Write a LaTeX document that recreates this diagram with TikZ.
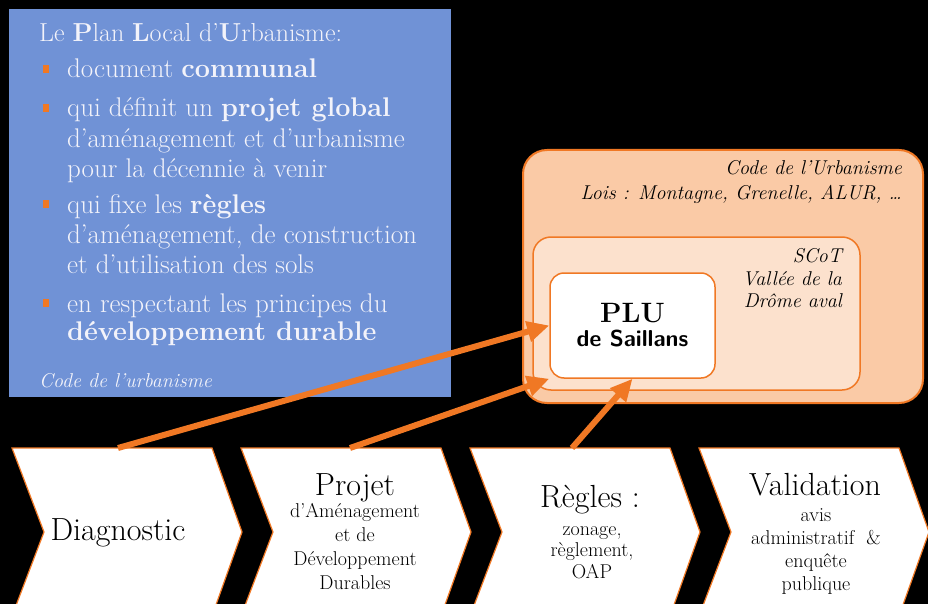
\documentclass[tikz,border=0pt]{standalone}
\usepackage{fontspec}
\usepackage{tikz}
\usetikzlibrary{positioning,arrows.meta}

\definecolor{planblue}{RGB}{112,146,214}
\definecolor{plantext}{RGB}{243,243,250}
\definecolor{pluorange}{RGB}{240,120,36}
\definecolor{codefill}{RGB}{250,202,166}
\definecolor{scotfill}{RGB}{252,225,205}

\tikzset{
	bluetxt/.style={anchor=base west, text=plantext, inner sep=0pt, font=\fontsize{27}{30}\selectfont},
	puce/.style={fill=pluorange, minimum width=6pt, minimum height=8pt, inner sep=0pt},
	codetxt/.style={anchor=base east, inner sep=0pt, font=\fontsize{20}{22}\selectfont\itshape},
	chevron/.style={fill=white, draw=pluorange, line width=1.2pt},
	bigtxt/.style={anchor=base, inner sep=0pt, font=\fontsize{32}{36}\selectfont},
	smalltxt/.style={anchor=base, align=center, inner sep=0pt, font=\fontsize{20}{23}\selectfont},
	fleche/.style={draw=pluorange, line width=6pt, -{Triangle[length=22pt,width=20pt]}}
}

\begin{document}
\begin{tikzpicture}[x=1pt, y=-1pt]
			\useasboundingbox (0,0) rectangle (928,604);
			\clip (0,0) rectangle (928,604);
			\fill[black] (0,0) rectangle (928,604);
			
			% le PLU en quelques mots
			\fill[planblue] (9,9) rectangle (451,397);
			\node[bluetxt, font=\fontsize{26}{30}\selectfont] (titre) at (39,42) {Le \textbf{P}lan \textbf{L}ocal d'\textbf{U}rbanisme:};
			\node[puce] (p1) at (46,69) {};
			\node[bluetxt] (l1) at (67,78) {document \textbf{communal}};
			\node[puce] (p2) at (46,108) {};
			\node[bluetxt] (l2) at (67,117) {qui définit un \textbf{projet global}};
			\node[bluetxt] (l3) at (67,148) {d'aménagement et d'urbanisme};
			\node[bluetxt] (l4) at (67,178) {pour la décennie à venir};
			\node[puce] (p3) at (46,204) {};
			\node[bluetxt] (l5) at (67,213) {qui fixe les \textbf{règles}};
			\node[bluetxt] (l6) at (67,243) {d'aménagement, de construction};
			\node[bluetxt] (l7) at (67,273) {et d'utilisation des sols};
			\node[puce] (p4) at (46,303) {};
			\node[bluetxt] (l8) at (67,312) {en respectant les principes du};
			\node[bluetxt] (l9) at (67,340) {\textbf{développement durable}};
			\node[bluetxt, font=\fontsize{20}{22}\selectfont\itshape] (source) at (39,387) {Code de l'urbanisme};
			
			% documents emboites
			\draw[fill=codefill, draw=pluorange, line width=2pt, rounded corners=24pt] (523,150) rectangle (923,403);
			\node[codetxt] (code) at (902,175) {Code de l'Urbanisme};
			\node[codetxt] (lois) at (902,200) {Lois : Montagne, Grenelle, ALUR, \ldots};
			
			\draw[fill=scotfill, draw=pluorange, line width=1.5pt, rounded corners=18pt] (533,237) rectangle (860,390);
			\node[codetxt] (scot) at (842,262) {SCoT};
			\node[codetxt] (vallee) at (842,285) {Vallée de la};
			\node[codetxt] (drome) at (842,307) {Drôme aval};
			
			\node[fill=white, draw=pluorange, line width=1.5pt, rounded corners=14pt, minimum width=165pt, minimum height=105pt, align=center] (plu) at (632.5,325.5)
				{\fontsize{28}{29}\selectfont\bfseries PLU\\[6pt]{\fontsize{23}{24}\selectfont\sffamily\bfseries de Saillans}};
			
			% les etapes
			\draw[chevron] (12,448) -- ++(200,0) -- ++(30,84) -- ++(-30,84) -- ++(-200,0) -- ++(32,-84) -- cycle;
			\draw[chevron] (241,448) -- ++(200,0) -- ++(30,84) -- ++(-30,84) -- ++(-200,0) -- ++(32,-84) -- cycle;
			\draw[chevron] (470,448) -- ++(200,0) -- ++(30,84) -- ++(-30,84) -- ++(-200,0) -- ++(32,-84) -- cycle;
			\draw[chevron] (699,448) -- ++(200,0) -- ++(30,84) -- ++(-30,84) -- ++(-200,0) -- ++(32,-84) -- cycle;
			
			\node[bigtxt] (diag) at (118,540) {Diagnostic};
			\node[bigtxt] (projet) at (355,495) {Projet};
			\node[smalltxt, font=\fontsize{20}{24}\selectfont] (padd) at (355,589) {d'Aménagement\\et de\\Développement\\Durables};
			\node[bigtxt] (regles) at (590,507) {Règles :};
			\node[smalltxt, font=\fontsize{20}{21.5}\selectfont] (zonage) at (592,578) {zonage,\\règlement,\\OAP};
			\node[bigtxt] (valid) at (815,495) {Validation};
			\node[smalltxt, font=\fontsize{20}{22.7}\selectfont] (avis) at (816,590) {avis\\administratif~ \&\\enquête\\publique};
			
			% fleches vers le PLU
			\coordinate (dstart) at (118,448);
			\coordinate (pstart) at (350,448);
			\coordinate (rstart) at (572,448);
			\draw[fleche] (dstart) -- (plu.west);
			\draw[fleche] (pstart) -- (plu.south west);
			\draw[fleche] (rstart) -- (plu.south);
		\end{tikzpicture}
\end{document}
